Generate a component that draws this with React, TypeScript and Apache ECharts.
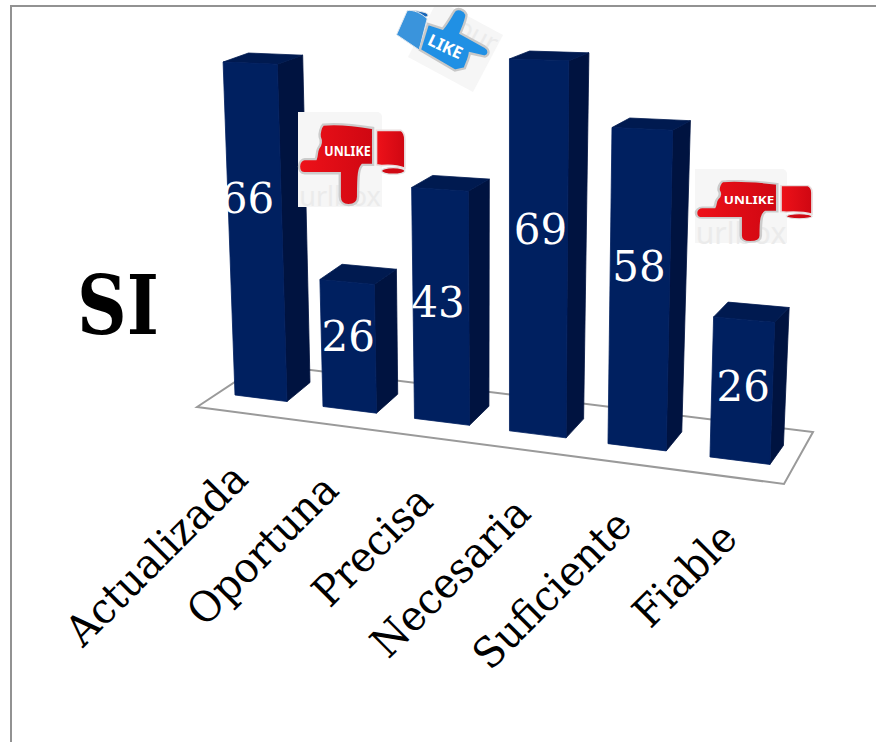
import React, { useEffect, useRef } from "react";
import * as echarts from "echarts";

// Survey results per attribute
const categories = ["Actualizada", "Oportuna", "Precisa", "Necesaria", "Suficiente", "Fiable"];
const siValues = [66, 26, 43, 69, 58, 26];

// Foreshortening of the value scale at each slot of the receding floor
const slotScale = [1.009, 0.977, 1.074, 1.078, 1.09, 1.077];
// Where each value label sits: fraction of the bar's height, sideways nudge in px
const labelRise = [0.6, 0.58, 0.515, 0.551, 0.57, 0.527];
const labelNudge = [-7, 0, -3, 2, -1, 1];

const FRONT = "#002060";
const SIDE = "#001340";
const TOP = "#001a50";
const SERIF = "'DejaVu Serif', serif";

const thumbDown =
  "M72 5 C120 0 180 8 222 15 L222 125 L190 125 C180 135 177 150 177 220 C177 238 165 245 148 245 C132 245 122 235 122 220 L122 150 L17 150 C5 150 0 140 0 130 C0 118 8 108 17 108 L50 108 C55 95 52 85 58 75 C66 65 68 55 62 42 C60 30 65 12 72 5 Z";
const cuffDown =
  "M232 22 L305 22 C315 28 317 40 317 50 L317 135 C300 128 270 125 247 127 L232 125 Z";
const thumbUp =
  "M414 72 L458 86 C472 70 482 50 494 32 C504 22 524 28 530 44 C530 58 520 80 512 100 L585 140 C600 150 600 165 585 170 L540 160 C538 175 530 190 525 205 L495 212 L390 150 Z";
const cuffUp = "M352 32 C370 28 395 40 412 56 L388 150 L320 104 Z";

echarts.graphic.registerShape("thumbDown", echarts.graphic.extendPath(thumbDown, {}) as any);
echarts.graphic.registerShape("cuffDown", echarts.graphic.extendPath(cuffDown, {}) as any);
echarts.graphic.registerShape("thumbUp", echarts.graphic.extendPath(thumbUp, {}) as any);
echarts.graphic.registerShape("cuffUp", echarts.graphic.extendPath(cuffUp, {}) as any);

const redFill = () =>
  new echarts.graphic.LinearGradient(0, 0, 1, 0, [
    { offset: 0, color: "#ee1119" },
    { offset: 1, color: "#cf0712" },
  ]);

function unlikeSticker(box: number[], hx: number, hy: number, sx: number, sy: number, markSize: number, markY: number) {
  return [
    {
      type: "rect",
      z: 10,
      shape: { x: box[0], y: box[1], width: box[2], height: box[3], r: [0, 5, 0, 0] },
      style: { fill: "#f6f6f6" },
    },
    {
      type: "text",
      z: 11,
      x: box[0] + box[2] / 2,
      y: markY,
      style: {
        text: "urlbox",
        fill: "#ebebeb",
        font: `${markSize}px 'Noto Sans', sans-serif`,
        align: "center",
        verticalAlign: "middle",
      },
    },
    {
      type: "group",
      z: 12,
      x: hx,
      y: hy,
      scaleX: sx,
      scaleY: sy,
      children: [
        {
          type: "ellipse",
          z: 12,
          shape: { cx: 282, cy: 143, rx: 35, ry: 10 },
          style: { fill: "#d00a14", stroke: "#e4e4e4", lineWidth: 4 },
        },
        {
          type: "cuffDown",
          z: 13,
          style: { fill: redFill(), stroke: "#e8dede", lineWidth: 5 },
        },
        {
          type: "thumbDown",
          z: 14,
          style: { fill: redFill(), stroke: "#cccccc", lineWidth: 7 },
        },
        {
          type: "text",
          z: 15,
          x: 145,
          y: 80,
          scaleX: 0.84,
          style: {
            text: "UNLIKE",
            fill: "#ffffff",
            font: "bold 44px 'Noto Sans', sans-serif",
            align: "center",
            verticalAlign: "middle",
          },
        },
      ],
    },
  ];
}

const likeSticker = [
  {
    type: "polygon",
    z: 10,
    shape: { points: [[408, 57], [473, 92], [503, 35], [451, 7], [434, 7]] },
    style: { fill: "#f6f6f6" },
  },
  {
    type: "text",
    z: 11,
    x: 478,
    y: 34,
    rotation: -0.5,
    style: {
      text: "our",
      fill: "#ebebeb",
      font: "26px 'Noto Sans', sans-serif",
      align: "center",
      verticalAlign: "middle",
    },
  },
  {
    type: "group",
    z: 12,
    x: 290,
    y: 0,
    scaleX: 1 / 3,
    scaleY: 1 / 3,
    children: [
      {
        type: "ellipse",
        z: 12,
        shape: { cx: 382, cy: 43, rx: 32, ry: 10 },
        rotation: -0.1,
        originX: 382,
        originY: 43,
        style: { fill: "#1766b8", stroke: "#e4e4e4", lineWidth: 3 },
      },
      {
        type: "cuffUp",
        z: 13,
        style: { fill: "#3a94dc", stroke: "#dfe6ee", lineWidth: 3 },
      },
      {
        type: "thumbUp",
        z: 14,
        style: { fill: "#2090e4", stroke: "#c8c8c8", lineWidth: 7 },
      },
      {
        type: "text",
        z: 15,
        x: 467,
        y: 138,
        rotation: -0.44,
        style: {
          text: "LIKE",
          fill: "#ffffff",
          font: "bold 50px 'Noto Sans', sans-serif",
          align: "center",
          verticalAlign: "middle",
        },
      },
    ],
  },
];

const facet = (points: number[][], fill: string) => ({
  type: "polygon",
  shape: { points },
  style: { fill, stroke: fill, lineWidth: 0.8 },
});

// Projects the flat category/value layout onto the tilted floor and draws one box
function renderBox(params: any, api: any) {
  const i = api.value(0);
  const v = api.value(1);
  const origin = api.coord([i, 0]);
  const h = (origin[1] - api.coord([i, v])[1]) * slotScale[i];

  const X = origin[0] + 0.000235 * (origin[0] - 235) ** 2;
  const Yb = 395 + 0.1304 * (X - 235);
  const w = 52 + 0.0168 * (X - 235);
  const tilt = (x: number, rise: number) => x + rise * 0.00013 * (x - 510);
  const depth = (rise: number) => [23 - 0.02 * (X - 235) + 0.007 * rise, -19 + 0.03 * rise];

  const fbl = [X, Yb];
  const fbr = [X + w, Yb + 0.125 * w];
  const ftl = [tilt(X, h), Yb - h];
  const ftr = [tilt(X + w, h), Yb - h + (0.125 - 0.00025 * h) * w];
  const d0 = depth(0);
  const dh = depth(h);
  const bbr = [fbr[0] + d0[0], fbr[1] + d0[1]];
  const btr = [ftr[0] + dh[0], ftr[1] + dh[1]];
  const btl = [ftl[0] + dh[0], ftl[1] + dh[1]];

  const labelY = Yb + 0.06 * w - h * labelRise[i];
  const labelX = tilt(X + w / 2, h * labelRise[i]) + labelNudge[i];

  return {
    type: "group",
    children: [
      facet([fbr, bbr, btr, ftr], SIDE),
      facet([ftl, ftr, btr, btl], TOP),
      facet([fbl, fbr, ftr, ftl], FRONT),
      {
        type: "text",
        x: labelX,
        y: labelY,
        style: {
          text: String(v),
          fill: "#ffffff",
          font: `42px ${SERIF}`,
          align: "center",
          verticalAlign: "middle",
        },
      },
      {
        type: "text",
        x: 240 + 1.03 * (X - 235),
        y: 471 + 0.125 * (X - 235),
        rotation: Math.PI / 4,
        scaleX: 0.95,
        style: {
          text: categories[i],
          fill: "#000000",
          font: `42px ${SERIF}`,
          align: "right",
          verticalAlign: "middle",
        },
      },
    ],
  };
}

export default function App() {
  const ref = useRef<HTMLDivElement>(null);

  useEffect(() => {
    const chart = echarts.init(ref.current!, undefined, { renderer: "svg" });
    chart.setOption({
      animation: false,
      backgroundColor: "#ffffff",
      grid: { left: 191.875, width: 517.5, top: 0, height: 500 },
      xAxis: { type: "category", data: categories, show: false },
      yAxis: { type: "value", min: 0, max: 100, show: false },
      graphic: {
        elements: [
          {
            type: "polyline",
            z: 0,
            shape: { points: [[11, 742], [11, 6], [876, 6]] },
            style: { stroke: "#929292", lineWidth: 2, fill: "none" },
          },
          {
            type: "polygon",
            z: 0,
            shape: { points: [[197, 407], [784, 484], [813, 432], [262, 364]] },
            style: { fill: "#ffffff", stroke: "#9a9a9a", lineWidth: 2 },
          },
          {
            type: "text",
            z: 1,
            x: 118,
            y: 305,
            scaleX: 0.84,
            style: {
              text: "SI",
              fill: "#000000",
              font: "bold 82px 'DejaVu Serif', serif",
              align: "center",
              verticalAlign: "middle",
            },
          },
          ...unlikeSticker([298, 112, 84, 95], 299, 123, 0.334, 0.335, 27, 195),
          ...unlikeSticker([695, 169, 92, 74], 696, 180, 0.366, 0.253, 30, 232),
          ...likeSticker,
        ],
      },
      series: [
        {
          type: "custom",
          z: 5,
          clip: false,
          data: siValues.map((v, i) => [i, v]),
          encode: { x: 0, y: 1 },
          renderItem: renderBox,
        },
      ],
    });
    return () => chart.dispose();
  }, []);

  return <div ref={ref} style={{ position: "absolute", left: 0, top: 0, width: 876, height: 742 }} />;
}
